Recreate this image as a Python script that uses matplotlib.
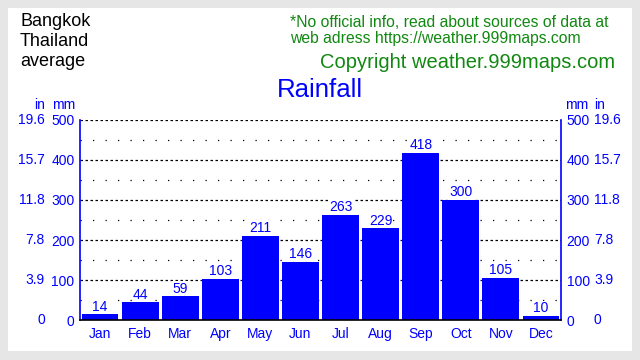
import matplotlib.pyplot as plt
from matplotlib.patches import Rectangle

BLUE = "#0000ff"
GREEN = "#118811"
BG_COLOR = "#e6e6e6"

months = ["Jan", "Feb", "Mar", "Apr", "May", "Jun",
          "Jul", "Aug", "Sep", "Oct", "Nov", "Dec"]
rain_mm = [14, 44, 59, 103, 211, 146, 263, 229, 418, 300, 105, 10]
mm_ticks = [0, 100, 200, 300, 400, 500]
in_labels = ["0", "3.9", "7.8", "11.8", "15.7", "19.6"]
minor_ticks = [50, 150, 250, 350, 450]

plt.rcParams["font.family"] = ["Liberation Sans", "DejaVu Sans"]

W, H = 640, 360
FS = 10

fig = plt.figure(figsize=(6.4, 3.6), dpi=100, facecolor=BG_COLOR)
fig.patches.append(Rectangle((8 / W, 9 / H), 624 / W, 343 / H,
                             transform=fig.transFigure, facecolor="white",
                             edgecolor="none", zorder=-5))

ax = fig.add_axes([80 / W, 40 / H, 481 / W, 200 / H])
ax.set_facecolor("none")
ax.set_xlim(-0.5, 11.5)
ax.set_ylim(0, 500)

for y in mm_ticks[1:]:
    ax.axhline(y, color="black", linewidth=0.9, dashes=(2, 2), zorder=1)
for y in minor_ticks:
    ax.axhline(y, color="black", linewidth=0.9, dashes=(1, 9), zorder=1)

ax.bar(range(len(months)), rain_mm, width=0.92, color=BLUE, zorder=2)
for i, v in enumerate(rain_mm):
    ax.text(i, v + 2, str(v), ha="center", va="bottom", color=BLUE,
            fontsize=FS, zorder=3,
            bbox=dict(facecolor="white", edgecolor="none", pad=0.5))

ax.set_xticks(range(len(months)))
ax.set_xticklabels(months)
ax.set_yticks(mm_ticks)
ax.set_yticklabels([str(t) for t in mm_ticks])
ax.tick_params(axis="both", length=0, colors=BLUE, labelsize=FS)
ax.tick_params(axis="x", pad=5)
ax.tick_params(axis="y", pad=4, right=True, labelright=True)

ax.spines["top"].set_visible(False)
ax.spines["left"].set_color(BLUE)
ax.spines["right"].set_color(BLUE)
ax.spines["bottom"].set_color("black")
for s in ax.spines.values():
    s.set_linewidth(1.2)

# inch labels on both sides
ytr = ax.get_yaxis_transform()
for t, lab in zip(mm_ticks, in_labels):
    ax.text((45 - 80) / 481, t, lab, transform=ytr, ha="right", va="center",
            color=BLUE, fontsize=FS, clip_on=False)
    ax.text((594 - 80) / 481, t, lab, transform=ytr, ha="left", va="center",
            color=BLUE, fontsize=FS, clip_on=False)

fig.text(45 / W, 1 - 105 / H, "in", ha="right", va="center", color=BLUE, fontsize=FS)
fig.text(75 / W, 1 - 105 / H, "mm", ha="right", va="center", color=BLUE, fontsize=FS)
fig.text(565 / W, 1 - 105 / H, "mm", ha="left", va="center", color=BLUE, fontsize=FS)
fig.text(594 / W, 1 - 105 / H, "in", ha="left", va="center", color=BLUE, fontsize=FS)

fig.text(20 / W, 1 - 13 / H, "Bangkok\nThailand\naverage", ha="left", va="top",
         multialignment="left", color="black", fontsize=13, linespacing=1.25)
fig.text(320 / W, 1 - 90 / H, "Rainfall", ha="center", va="center",
         color=BLUE, fontsize=18.5)
fig.text(290 / W, 1 - 15 / H,
         "*No official info, read about sources of data at\nweb adress https://weather.999maps.com",
         ha="left", va="top", multialignment="left", color=GREEN,
         fontsize=11.3, linespacing=1.1)
fig.text(615 / W, 1 - 62 / H, "Copyright weather.999maps.com", ha="right",
         va="center", color=GREEN, fontsize=14.5)

fig.savefig("out.png", dpi=100, facecolor=BG_COLOR)
